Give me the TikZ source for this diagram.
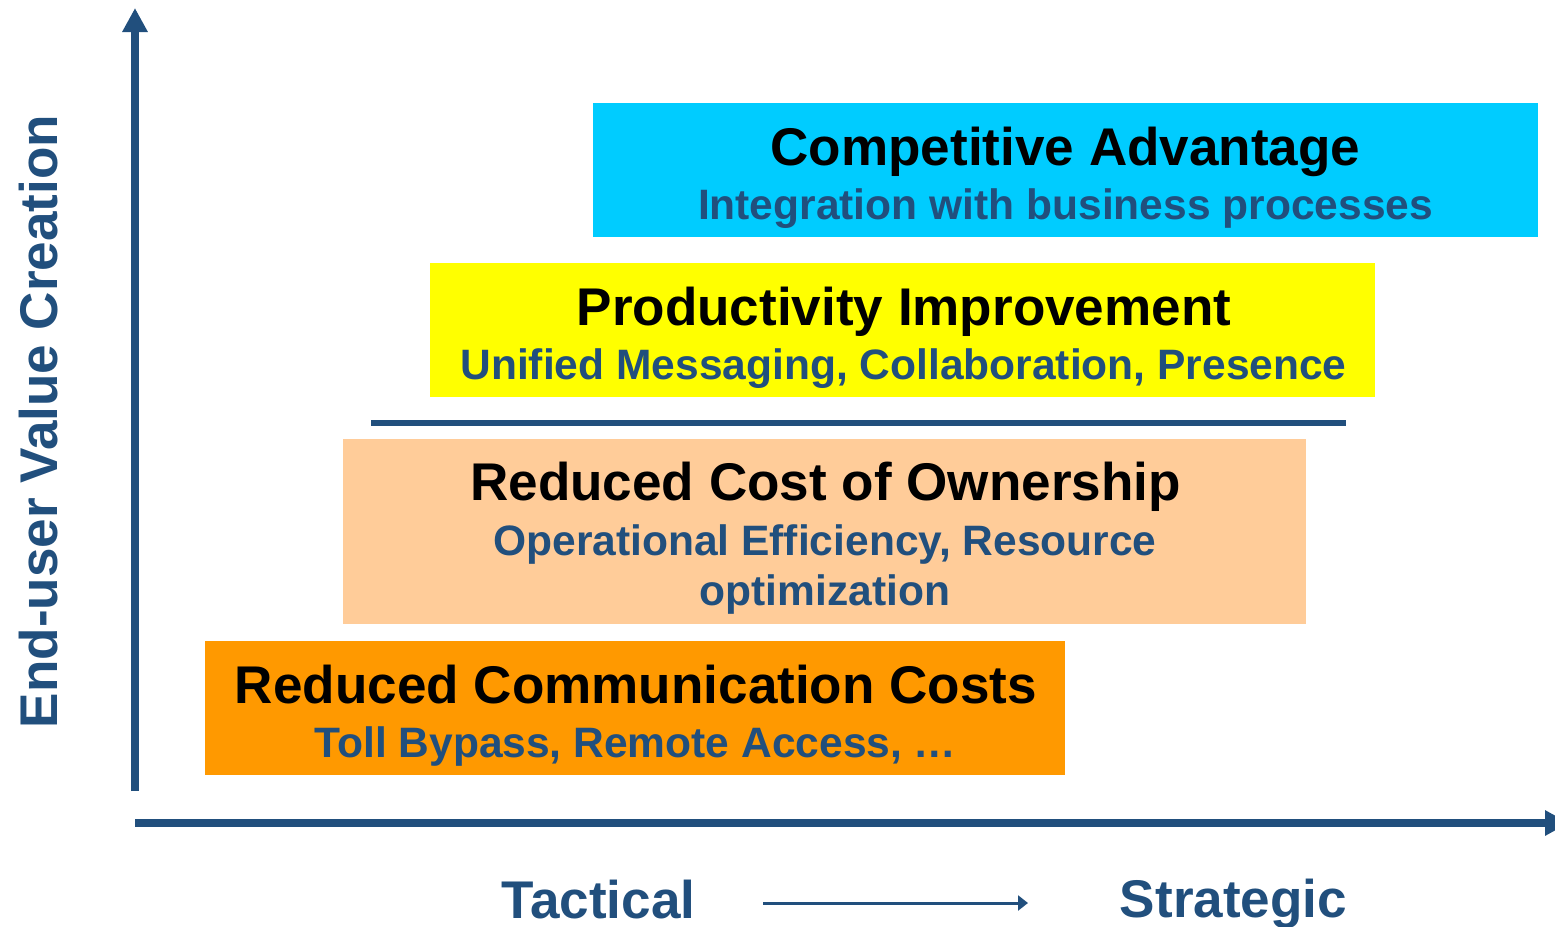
\documentclass[tikz,border=0pt]{standalone}
\usepackage{fontspec}
\setmainfont{Liberation Sans}
\usetikzlibrary{arrows.meta}
\definecolor{axisblue}{RGB}{33,79,125}
\definecolor{boxcyan}{RGB}{0,204,255}
\definecolor{boxyellow}{RGB}{255,255,0}
\definecolor{boxpeach}{RGB}{255,204,153}
\definecolor{boxorange}{RGB}{255,153,0}
\tikzset{
	tier/.style={rectangle, inner sep=0pt, outer sep=0pt, anchor=north west},
	tiertitle/.style={anchor=base, inner sep=0pt, font=\bfseries\fontsize{15.1}{18}\selectfont, text=black},
	tiersub/.style={anchor=base, inner sep=0pt, font=\bfseries\fontsize{12.1}{14}\selectfont, text=axisblue},
	axislabel/.style={anchor=base, inner sep=0pt, font=\bfseries\fontsize{15.1}{18}\selectfont, text=axisblue}
}

\begin{document}
\begin{tikzpicture}
			%%%%% START %%%%%
			\useasboundingbox (0, 0) rectangle (15.55, -9.26);
			\clip (0, 0) rectangle (15.55, -9.26);
			
			% boxes
			\node[tier, fill=boxcyan, minimum width=9.45cm, minimum height=1.34cm] (advbox) at (5.93, -1.03) {};
			\node[tier, fill=boxyellow, minimum width=9.45cm, minimum height=1.34cm] (prodbox) at (4.30, -2.63) {};
			\node[tier, fill=boxpeach, minimum width=9.63cm, minimum height=1.85cm] (ownbox) at (3.43, -4.39) {};
			\node[tier, fill=boxorange, minimum width=8.60cm, minimum height=1.34cm] (commbox) at (2.05, -6.41) {};
			
			\draw[line width=0.06cm, color=axisblue] (3.71, -4.23) -- (13.46, -4.23);
			
			% texts
			\node[tiertitle] (advtitle) at (10.655, -1.65) {Competitive Advantage};
			\node[tiersub] (advsub) at (10.655, -2.19) {Integration with business processes};
			
			\node[tiertitle] (prodtitle) at (9.04, -3.25) {Productivity Improvement};
			\node[tiersub] (prodsub) at (9.035, -3.79) {Unified Messaging, Collaboration, Presence};
			
			\node[tiertitle] (owntitle) at (8.255, -5.00) {Reduced Cost of Ownership};
			\node[tiersub] (ownsub) at (8.25, -5.55) {Operational Efficiency, Resource};
			\node[tiersub] (ownsubb) at (8.25, -6.05) {optimization};
			
			\node[tiertitle] (commtitle) at (6.36, -7.03) {Reduced Communication Costs};
			\node[tiersub] (commsub) at (6.355, -7.57) {Toll Bypass, Remote Access, …};
			
			% axes
			\coordinate (yfoot) at (1.35, -7.91);
			\coordinate (ytip) at (1.35, -0.08);
			\coordinate (xfoot) at (1.35, -8.23);
			\coordinate (xtip) at (15.69, -8.23);
			\draw[line width=0.08cm, color=axisblue, -{Triangle[length=0.24cm, width=0.24cm]}] (yfoot) -- (ytip);
			\draw[line width=0.08cm, color=axisblue, -{Triangle[length=0.24cm, width=0.24cm]}] (xfoot) -- (xtip);
			
			\node[axislabel, rotate=90] (valuelabel) at (0.575, -4.215) {End-user Value Creation};
			\node[axislabel] (tactical) at (5.985, -9.18) {Tactical};
			\node[axislabel] (strategic) at (12.335, -9.17) {Strategic};
			
			\coordinate (spanstart) at (7.63, -9.03);
			\coordinate (spanend) at (10.28, -9.03);
			\draw[line width=0.03cm, color=axisblue, -{Triangle[length=0.1cm, width=0.15cm]}] (spanstart) -- (spanend);
			%%%%% END %%%%%
\end{tikzpicture}
\end{document}
